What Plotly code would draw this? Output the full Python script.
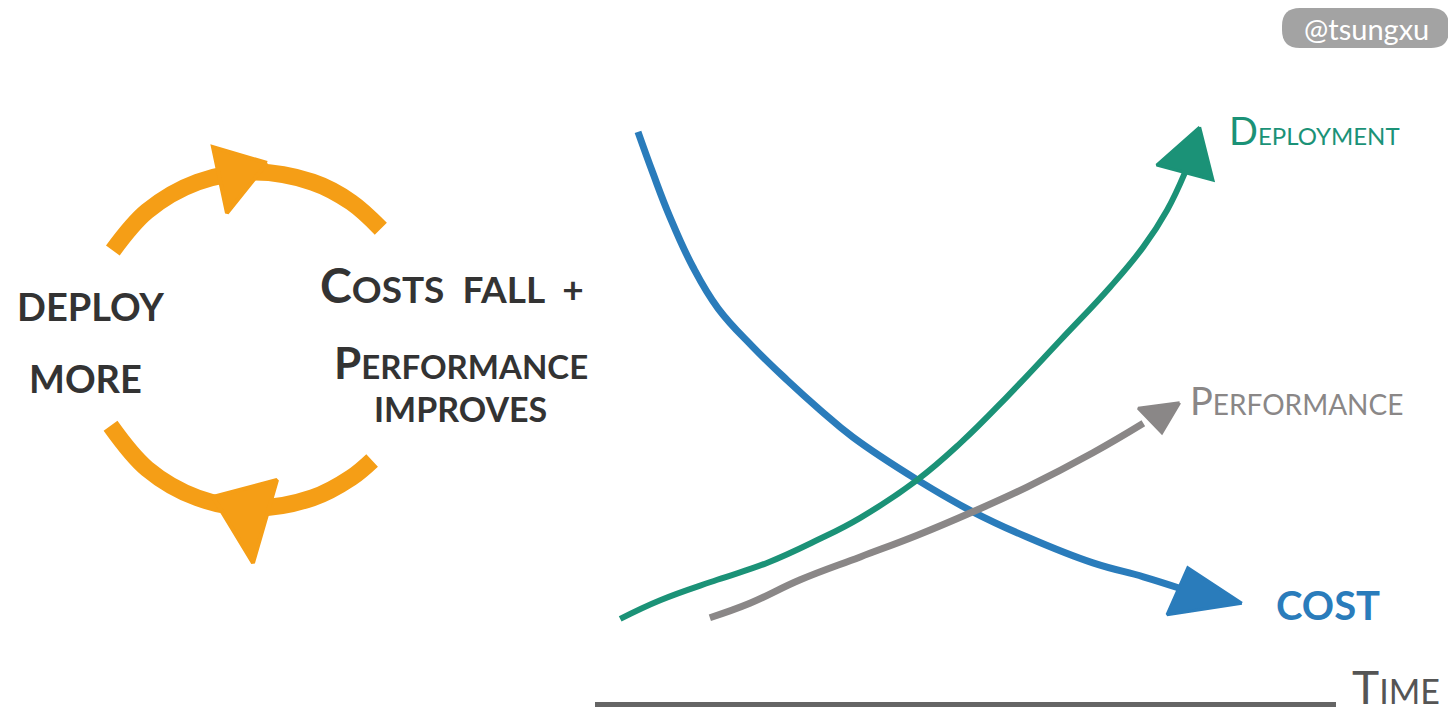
import math
import plotly.graph_objects as go

W, H = 1456, 717
OFF = 8  # default page margin of the browser body

# ---------------- chart data (time 0-100, value 0-100) ----------------
cost_t = [5.8, 7.8, 10.1, 13.2, 16.6, 21.3, 25.9, 30.4, 34.8, 43.5, 51.0, 58.3, 67.2, 74.0, 78.9]
cost_v = [94.7, 87.9, 80.6, 72.3, 65.4, 59.0, 53.5, 48.5, 44.0, 36.9, 31.6, 27.4, 23.1, 20.8, 18.9]
cost_head_t = [87.3, 80.0, 77.2, 87.3]
cost_head_v = [16.4, 22.3, 14.5, 16.4]

deploy_t = [3.4, 8.8, 16.5, 23.2, 30.0, 35.8, 43.5, 49.3, 55.6, 62.8, 69.5, 74.0, 77.2, 79.6]
deploy_v = [13.8, 16.9, 20.3, 23.1, 26.9, 30.6, 36.9, 43.0, 50.7, 60.1, 68.9, 75.6, 81.7, 87.9]
deploy_head_t = [81.6, 75.8, 83.4, 81.6]
deploy_head_v = [95.5, 89.2, 86.7, 95.5]

perf_t = [15.5, 20.9, 27.7, 35.8, 43.5, 51.0, 58.3, 67.2, 74.0]
perf_v = [14.0, 16.4, 20.3, 24.1, 27.7, 31.6, 35.7, 41.4, 46.3]
perf_head_t = [78.9, 73.3, 76.5, 78.9]
perf_head_v = [49.7, 48.8, 44.7, 49.7]

# ---------------- cycle diagram (pixel space of overlay axes) ----------------
cycle_center = (255, 340)
cycle_radius = 168
upper_arc_deg = [147.8, 130, 110, 90, 70, 55, 41.5]
lower_arc_deg = [-149.3, -130, -110, -90, -70, -55, -45.8]
upper_head_x = [267, 213, 227, 267]
upper_head_y = [163, 147, 213, 163]
lower_head_x = [213, 277, 253, 213]
lower_head_y = [497, 480, 563, 497]

BLUE = "#2a7cbb"
GREEN = "#1b9277"
GREY = "#8a8787"
ORANGE = "#f59e16"
INK = "#333333"

fig = go.Figure()

# chart curves
fig.add_trace(go.Scatter(x=cost_t, y=cost_v, mode="lines",
                         line=dict(color=BLUE, width=7, shape="spline", smoothing=1.2),
                         hoverinfo="skip"))
fig.add_trace(go.Scatter(x=cost_head_t, y=cost_head_v, mode="lines", fill="toself",
                         fillcolor=BLUE, line=dict(color=BLUE, width=3), hoverinfo="skip"))
fig.add_trace(go.Scatter(x=deploy_t, y=deploy_v, mode="lines",
                         line=dict(color=GREEN, width=6, shape="spline", smoothing=1.2),
                         hoverinfo="skip"))
fig.add_trace(go.Scatter(x=deploy_head_t, y=deploy_head_v, mode="lines", fill="toself",
                         fillcolor=GREEN, line=dict(color=GREEN, width=3), hoverinfo="skip"))
fig.add_trace(go.Scatter(x=perf_t, y=perf_v, mode="lines",
                         line=dict(color=GREY, width=7, shape="spline", smoothing=1.2),
                         hoverinfo="skip"))
fig.add_trace(go.Scatter(x=perf_head_t, y=perf_head_v, mode="lines", fill="toself",
                         fillcolor=GREY, line=dict(color=GREY, width=3), hoverinfo="skip"))

# cycle arcs
cx, cy = cycle_center
for degs in (upper_arc_deg, lower_arc_deg):
    xs = [cx + cycle_radius * math.cos(math.radians(d)) for d in degs]
    ys = [cy - cycle_radius * math.sin(math.radians(d)) for d in degs]
    fig.add_trace(go.Scatter(x=xs, y=ys, mode="lines", xaxis="x2", yaxis="y2",
                             line=dict(color=ORANGE, width=17, shape="spline"), hoverinfo="skip"))
for hx, hy in ((upper_head_x, upper_head_y), (lower_head_x, lower_head_y)):
    fig.add_trace(go.Scatter(x=hx, y=hy, mode="lines", fill="toself", xaxis="x2", yaxis="y2",
                             fillcolor=ORANGE, line=dict(color=ORANGE, width=4), hoverinfo="skip"))

FONT = "Lato, 'Open Sans', sans-serif"


def big(ch, size):
    return f"<span style='font-size:{size}px'>{ch}</span>"


annotations = [
    dict(x=90, y=306, text="DEPLOY", font=dict(size=38, color=INK, weight=700)),
    dict(x=85, y=378, text="MORE", font=dict(size=38, color=INK, weight=700)),
    dict(x=452, y=284, text=big("C", 48) + "OSTS  FALL  +", font=dict(size=37, color=INK, weight=700)),
    dict(x=461, y=362, text=big("P", 44) + "ERFORMANCE", font=dict(size=33, color=INK, weight=700)),
    dict(x=460, y=408, text="IMPROVES", font=dict(size=34, color=INK, weight=700)),
    dict(x=1314, y=130, text=big("D", 38) + "EPLOYMENT", font=dict(size=24, color=GREEN)),
    dict(x=1296, y=400, text=big("P", 38) + "ERFORMANCE", font=dict(size=28, color=GREY)),
    dict(x=1328, y=605, text="COST", font=dict(size=40, color=BLUE, weight=700)),
    dict(x=1396, y=686, text=big("T", 46) + "IME", font=dict(size=34, color="#555555")),
    dict(x=1366, y=28, text="@tsungxu", font=dict(size=29, color="white")),
]
for a in annotations:
    a.update(xref="x2", yref="y2", showarrow=False, xanchor="center", yanchor="middle")
    a["font"]["family"] = FONT

# badge rounded rect
bx0, bx1, by0, by1, r = 1282, 1449, 8, 48, 18
badge_path = (f"M {bx0+r},{by0} L {bx1-r},{by0} Q {bx1},{by0} {bx1},{by0+r} "
              f"L {bx1},{by1-r} Q {bx1},{by1} {bx1-r},{by1} L {bx0+r},{by1} "
              f"Q {bx0},{by1} {bx0},{by1-r} L {bx0},{by0+r} Q {bx0},{by0} {bx0+r},{by0} Z")

# chart box in screen pixels
X0, X1, Y0, Y1 = 595, 1336, 702, 100

fig.update_layout(
    width=W, height=H,
    margin=dict(l=0, r=0, t=0, b=0),
    paper_bgcolor="white", plot_bgcolor="rgba(0,0,0,0)",
    showlegend=False,
    xaxis=dict(domain=[(X0 - OFF) / W, (X1 - OFF) / W], range=[0, 100], showgrid=False,
               zeroline=False, showticklabels=False, ticks="", showline=True,
               linecolor="#656565", linewidth=5, anchor="y"),
    yaxis=dict(domain=[(H - (Y0 - OFF)) / H, (H - (Y1 - OFF)) / H], range=[0, 100],
               showgrid=False, zeroline=False, showticklabels=False, ticks="",
               showline=False, anchor="x"),
    xaxis2=dict(domain=[0, 1], range=[OFF, W + OFF], visible=False, anchor="y2"),
    yaxis2=dict(domain=[0, 1], range=[H + OFF, OFF], visible=False, anchor="x2"),
    annotations=annotations,
    shapes=[dict(type="path", path=badge_path, xref="x2", yref="y2",
                 fillcolor="#a3a3a3", line=dict(width=0), layer="below")],
)

fig.write_html("out.html")
